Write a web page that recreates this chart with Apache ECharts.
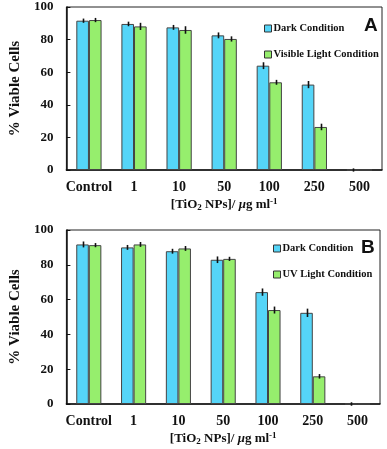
<!DOCTYPE html>
<html>
<head>
<meta charset="utf-8">
<script src="https://cdn.jsdelivr.net/npm/echarts@6/dist/echarts.min.js"></script>
<style>
  html, body { margin: 0; padding: 0; background: #fff; }
  #main { width: 387px; height: 449px; }
</style>
</head>
<body>
<div id="main"></div>
<script>
// 浓度类别
const categories = ['Control', '1', '10', '50', '100', '250', '500'];

// A: 暗条件 / 可见光条件
const darkA = [91.6, 89.6, 87.5, 82.6, 64.0, 52.4, 0];
const darkAErr = [1.3, 1.4, 1.5, 1.8, 2.1, 2.2, 1.0];
const visibleA = [92.0, 88.1, 85.9, 80.4, 53.8, 26.4, 0];
const visibleAErr = [1.3, 2.2, 2.3, 1.6, 1.5, 2.0, 0];

// B: 暗条件 / 紫外光条件
const darkB = [91.7, 90.0, 87.8, 82.9, 64.3, 52.4, 0];
const darkBErr = [1.7, 1.4, 1.4, 1.9, 2.1, 2.4, 1.0];
const uvB = [91.3, 91.7, 89.4, 83.4, 54.0, 15.9, 0];
const uvBErr = [1.2, 1.4, 1.4, 1.2, 2.0, 1.3, 0];

const yTicks = [0, 20, 40, 60, 80, 100];

const BLUE = '#55d5f8';
const GREEN = '#96ee6d';
const SERIF = '"Liberation Serif", "DejaVu Serif", serif';
const BAR_W = 0.28; // 每根柱子占类目宽度的比例

let chart = echarts.init(document.getElementById('main'));

function errData(vals, errs) {
    return vals.map((v, i) => [i, v, errs[i]]);
}

// 误差棒，side=-1 左边柱子，1 右边柱子
function errorSeries(idx, vals, errs, side) {
    return {
        type: 'custom',
        xAxisIndex: idx,
        yAxisIndex: idx,
        data: errData(vals, errs),
        z: 5,
        renderItem: function (params, api) {
            let err = api.value(2);
            if (!err) return null;
            let band = api.size([1, 0])[0];
            let dx = side * band * BAR_W / 2;
            let hi = api.coord([api.value(0), api.value(1) + err]);
            let lo = api.coord([api.value(0), api.value(1) - err]);
            let x = Math.round(hi[0] + dx) + 0.5;
            return {
                type: 'line',
                shape: { x1: x, y1: hi[1], x2: x, y2: lo[1] },
                style: { stroke: '#111', lineWidth: 1.6 }
            };
        }
    };
}

function barSeries(idx, name, vals, color) {
    return {
        type: 'bar',
        name: name,
        xAxisIndex: idx,
        yAxisIndex: idx,
        data: vals,
        barWidth: (BAR_W * 100) + '%',
        barGap: '0%',
        itemStyle: { color: color, borderColor: '#444', borderWidth: 1 }
    };
}

function xAxis(idx) {
    return {
        type: 'category',
        gridIndex: idx,
        data: categories,
        axisLine: { lineStyle: { color: '#111', width: 1.5 } },
        axisTick: { show: false },
        axisLabel: { interval: 0, hideOverlap: false, fontFamily: SERIF, fontWeight: 'bold', fontSize: 14, color: '#111', margin: 10 },
        name: '[TiO{sub|2} NPs]/ {it|μ}g ml{sup|-1}',
        nameLocation: 'middle',
        nameGap: 27,
        nameTextStyle: {
            fontFamily: SERIF, fontWeight: 'bold', fontSize: 13, color: '#111',
            rich: {
                sub: { fontFamily: SERIF, fontWeight: 'bold', fontSize: 9, verticalAlign: 'bottom', padding: [6, 0, 0, 0], color: '#111' },
                sup: { fontFamily: SERIF, fontWeight: 'bold', fontSize: 9, verticalAlign: 'top', padding: [0, 0, 6, 0], color: '#111' },
                it: { fontFamily: SERIF, fontWeight: 'bold', fontStyle: 'italic', fontSize: 13, color: '#111' }
            }
        }
    };
}

function yAxis(idx) {
    return {
        type: 'value',
        gridIndex: idx,
        min: yTicks[0],
        max: yTicks[yTicks.length - 1],
        interval: yTicks[1] - yTicks[0],
        splitLine: { show: false },
        axisLine: { show: true, lineStyle: { color: '#111', width: 1.5 } },
        axisTick: { show: true, inside: true, length: 4, lineStyle: { color: '#111' } },
        axisLabel: { fontFamily: SERIF, fontWeight: 'bold', fontSize: 13, color: '#111', margin: 13 },
        name: '% Viable Cells',
        nameLocation: 'middle',
        nameRotate: 90,
        nameGap: 31,
        nameTextStyle: { fontFamily: SERIF, fontWeight: 'bold', fontSize: 15, color: '#111' }
    };
}

function legend(names, left, top) {
    return {
        data: names,
        orient: 'vertical',
        left: left,
        top: top,
        itemGap: 15,
        itemWidth: 7,
        itemHeight: 7,
        icon: 'rect',
        itemStyle: { borderColor: '#333', borderWidth: 1 },
        textStyle: { fontFamily: SERIF, fontWeight: 'bold', fontSize: 10.5, color: '#111', padding: [0, 0, 0, -3] }
    };
}

let option = {
    animation: false,
    backgroundColor: '#fff',
    grid: [
        { left: 47, right: 5, top: 7, height: 163, show: true, borderColor: '#222', borderWidth: 1 },
        { left: 46, right: 7, top: 230, height: 174, show: true, borderColor: '#222', borderWidth: 1 }
    ],
    title: [
        { text: 'A', left: 359, top: 11, textStyle: { fontFamily: '"Liberation Sans", Arial, sans-serif', fontWeight: 'bold', fontSize: 19, color: '#111' } },
        { text: 'B', left: 356, top: 233, textStyle: { fontFamily: '"Liberation Sans", Arial, sans-serif', fontWeight: 'bold', fontSize: 19, color: '#111' } }
    ],
    legend: [
        legend(['Dark Condition', 'Visible Light Condition'], 259, 18),
        legend(['Dark Condition ', 'UV Light Condition'], 268, 238)
    ],
    xAxis: [xAxis(0), xAxis(1)],
    yAxis: [yAxis(0), yAxis(1)],
    series: [
        barSeries(0, 'Dark Condition', darkA, BLUE),
        barSeries(0, 'Visible Light Condition', visibleA, GREEN),
        errorSeries(0, darkA, darkAErr, -1),
        errorSeries(0, visibleA, visibleAErr, 1),
        barSeries(1, 'Dark Condition ', darkB, BLUE),
        barSeries(1, 'UV Light Condition', uvB, GREEN),
        errorSeries(1, darkB, darkBErr, -1),
        errorSeries(1, uvB, uvBErr, 1)
    ]
};

chart.setOption(option);
</script>
</body>
</html>
